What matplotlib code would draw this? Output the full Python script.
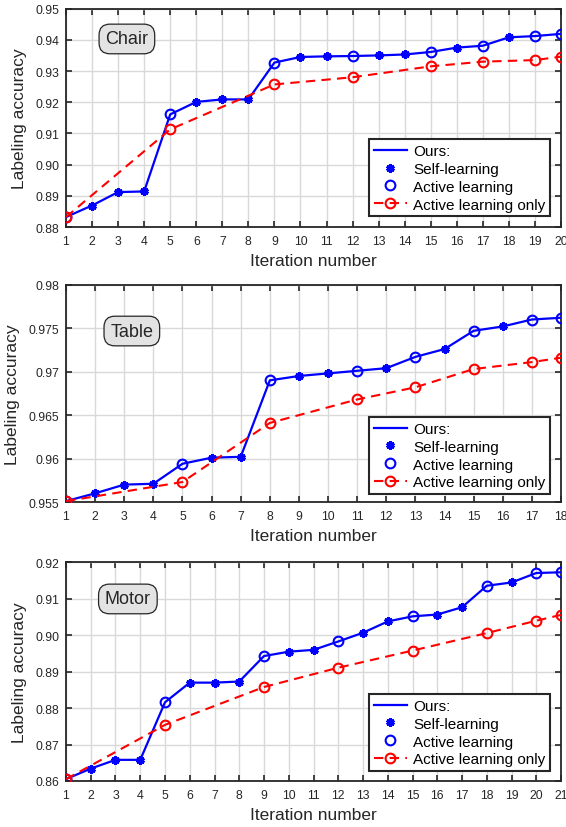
import matplotlib
matplotlib.use("Agg")
import matplotlib.pyplot as plt
import numpy as np

plt.rcParams['font.family'] = ['Liberation Sans', 'DejaVu Sans']

# ---- data ----
chair_ours = [0.8832, 0.8869, 0.8912, 0.8914, 0.9161, 0.9201, 0.9209, 0.9209, 0.9327, 0.9345,
              0.9347, 0.9348, 0.9350, 0.9353, 0.9361, 0.9375, 0.9381, 0.9408, 0.9412, 0.9419]
chair_active = [1, 5, 9, 12, 15, 17, 19, 20]          # iterations with active learning
chair_only_x = [1, 5, 9, 12, 15, 17, 19, 20]
chair_only = [0.8832, 0.9113, 0.9257, 0.9280, 0.9315, 0.9330, 0.9335, 0.9346]
chair_yticks = [0.88, 0.89, 0.90, 0.91, 0.92, 0.93, 0.94, 0.95]
chair_ylabels = ['0.88', '0.89', '0.90', '0.91', '0.92', '0.93', '0.94', '0.95']

table_ours = [0.9551, 0.9560, 0.9570, 0.9571, 0.9594, 0.9601, 0.9602, 0.9690, 0.9695,
              0.9698, 0.9701, 0.9704, 0.9717, 0.9726, 0.9747, 0.9752, 0.9760, 0.9762]
table_active = [1, 5, 8, 11, 13, 15, 17, 18]
table_only_x = [1, 5, 8, 11, 13, 15, 17, 18]
table_only = [0.9551, 0.9573, 0.9641, 0.9668, 0.9682, 0.9703, 0.9711, 0.9716]
table_yticks = [0.955, 0.96, 0.965, 0.97, 0.975, 0.98]
table_ylabels = ['0.955', '0.96', '0.965', '0.97', '0.975', '0.98']

motor_ours = [0.8605, 0.8634, 0.8658, 0.8658, 0.8816, 0.8870, 0.8870, 0.8873, 0.8943, 0.8955,
              0.8960, 0.8983, 0.9007, 0.9038, 0.9052, 0.9057, 0.9077, 0.9136, 0.9145, 0.9171, 0.9173]
motor_active = [1, 5, 9, 12, 15, 18, 20, 21]
motor_only_x = [1, 5, 9, 12, 15, 18, 20, 21]
motor_only = [0.8605, 0.8754, 0.8858, 0.8911, 0.8958, 0.9006, 0.9040, 0.9056]
motor_yticks = [0.86, 0.87, 0.88, 0.89, 0.90, 0.91, 0.92]
motor_ylabels = ['0.86', '0.87', '0.88', '0.89', '0.90', '0.91', '0.92']

panels = [
    ("Chair", chair_ours, chair_active, chair_only_x, chair_only, chair_yticks, chair_ylabels,
     [0.1166, 0.7246, 0.8746, 0.2638], (0.123, 0.861), 0.050),
    ("Table", table_ours, table_active, table_only_x, table_only, table_yticks, table_ylabels,
     [0.1166, 0.3925, 0.8746, 0.2624], (0.133, 0.787), 0.037),
    ("Motor", motor_ours, motor_active, motor_only_x, motor_only, motor_yticks, motor_ylabels,
     [0.1166, 0.0556, 0.8746, 0.2639], (0.125, 0.833), 0.046),
]

dark = '#262626'
fig = plt.figure(figsize=(5.66, 8.28), dpi=100)

for name, ours, active, only_x, only, yt, yl, rect, boxpos, legy in panels:
    ax = fig.add_axes(rect)
    x = np.arange(1, len(ours) + 1)
    ours = np.array(ours)
    act = np.isin(x, active)

    ax.plot(x, ours, '-', color='b', lw=1.6, zorder=3)
    ax.plot(x[~act], ours[~act], ls='none', marker=(6, 2, 0), ms=6, mew=2.2, color='b', zorder=4)
    ax.plot(x[act], ours[act], ls='none', marker='o', ms=7, mew=1.5, mfc='none', mec='b', zorder=4)
    ax.plot(only_x, only, '--', color='r', lw=1.5, dashes=(4.5, 3), marker='o', ms=7, mew=1.5,
            mfc='none', mec='r', zorder=5)

    ax.set_xlim(1, len(ours))
    ax.set_ylim(yt[0], yt[-1])
    ax.set_xticks(x)
    ax.set_yticks(yt)
    ax.set_yticklabels(yl)
    ax.grid(True, color='#d9d9d9', lw=1.0)
    ax.set_axisbelow(True)
    ax.tick_params(direction='in', top=True, right=True, length=4, width=1.2,
                   labelsize=8.8, labelcolor=dark, color=dark)
    ax.tick_params(axis='x', pad=6)
    ax.tick_params(axis='y', pad=5)
    for s in ax.spines.values():
        s.set_color(dark)
        s.set_linewidth(1.3)
    ax.set_xlabel("Iteration number", fontsize=12.5, color=dark, labelpad=4)
    ax.set_ylabel("Labeling accuracy", fontsize=12.5, color=dark, labelpad=6)

    ax.text(boxpos[0], boxpos[1], name, transform=ax.transAxes, ha='center', va='center',
            fontsize=13, color=dark,
            bbox=dict(boxstyle='round,pad=0.35,rounding_size=0.6', fc='#e3e3e3', ec=dark, lw=0.9))

    h_ours, = ax.plot([], [], '-', color='b', lw=1.6)
    h_self, = ax.plot([], [], ls='none', marker=(6, 2, 0), ms=6, mew=2.2, color='b')
    h_act, = ax.plot([], [], ls='none', marker='o', ms=7, mew=1.5, mfc='none', mec='b')
    h_only, = ax.plot([], [], '--', color='r', lw=1.5, dashes=(4.5, 3), marker='o', ms=7, mew=1.5,
                      mfc='none', mec='r')
    leg = ax.legend([h_ours, h_self, h_act, h_only],
                    ["Ours:", "Self-learning", "Active learning", "Active learning only"],
                    loc='lower right', bbox_to_anchor=(0.978, legy), fontsize=11, fancybox=False,
                    framealpha=1, edgecolor=dark, handlelength=2.2, handletextpad=0.4,
                    borderpad=0.3, labelspacing=0.25, borderaxespad=0, numpoints=1)
    leg.get_frame().set_linewidth(1.5)
    for t in leg.get_texts():
        t.set_color('black')

fig.savefig("out.png", dpi=100)
